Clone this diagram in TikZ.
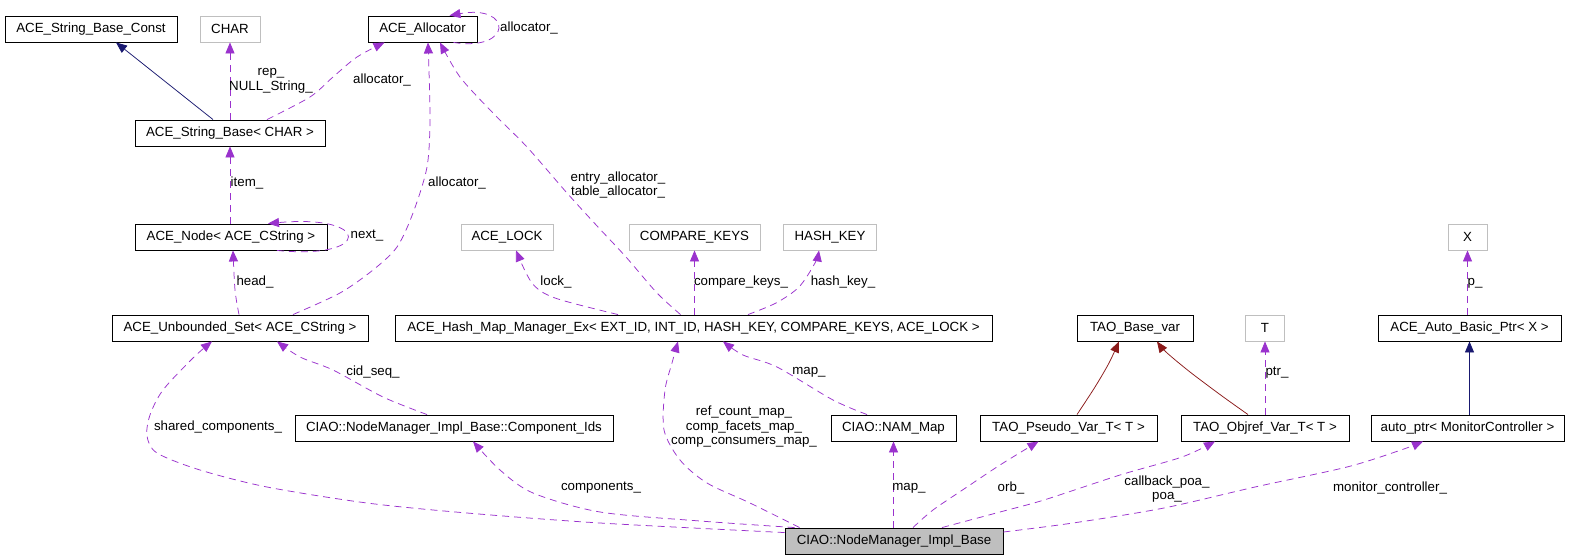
\documentclass[tikz,border=0pt]{standalone}
\usepackage{fontspec}
\setmainfont{Liberation Sans}
\usetikzlibrary{arrows.meta}
\definecolor{purp}{HTML}{9A32CD}
\definecolor{navyc}{HTML}{191970}
\definecolor{firec}{HTML}{8B1A1A}
\definecolor{graybd}{HTML}{BFBFBF}
\newcommand\lblfont{\fontsize{13.3}{14.5}\selectfont}
\tikzset{
  cls/.style={draw=black, line width=0.9pt, minimum height=26, inner sep=0pt, font=\lblfont, text=black},
  ext/.style={cls, draw=graybd},
  mainc/.style={cls, fill=graybd},
  use/.style={draw=purp, line width=0.75pt, dash pattern=on 7pt off 5pt, -{Triangle[length=11pt,width=9pt]}},
  inh/.style={draw=navyc, line width=0.75pt, -{Triangle[length=11pt,width=9pt]}},
  tmpl/.style={draw=firec, line width=0.75pt, -{Triangle[length=11pt,width=9pt]}},
  elab/.style={font=\lblfont, align=center, inner sep=0pt, text=black},
}
\begin{document}
\begin{tikzpicture}[x=1pt,y=-1pt]
\useasboundingbox[fill=white] (0,0) rectangle (1569,559);
% nodes
\node[cls, minimum width=172] (sbc) at (91,29) {ACE\_String\_Base\_Const};
\node[ext, minimum width=60] (chr) at (230,29) {CHAR};
\node[cls, minimum width=109] (alloc) at (422.5,29) {ACE\_Allocator};
\node[cls, minimum width=190] (sb) at (230,133) {ACE\_String\_Base< CHAR >};
\node[cls, minimum width=192] (nd) at (231,237) {ACE\_Node< ACE\_CString >};
\node[cls, minimum width=256] (us) at (240,328) {ACE\_Unbounded\_Set< ACE\_CString >};
\node[ext, minimum width=92] (lock) at (507,237) {ACE\_LOCK};
\node[ext, minimum width=131] (ck) at (694.5,237) {COMPARE\_KEYS};
\node[ext, minimum width=93] (hk) at (830,237) {HASH\_KEY};
\node[cls, minimum width=597] (hm) at (693.5,328) {ACE\_Hash\_Map\_Manager\_Ex< EXT\_ID, INT\_ID, HASH\_KEY, COMPARE\_KEYS, ACE\_LOCK >};
\node[cls, minimum width=116] (tbv) at (1135,328) {TAO\_Base\_var};
\node[ext, minimum width=39] (T) at (1265,328) {T};
\node[ext, minimum width=39] (X) at (1467.5,237) {X};
\node[cls, minimum width=183] (abp) at (1469.5,328) {ACE\_Auto\_Basic\_Ptr< X >};
\node[cls, minimum width=318] (cids) at (454,428) {CIAO::NodeManager\_Impl\_Base::Component\_Ids};
\node[cls, minimum width=125] (nam) at (893.5,428) {CIAO::NAM\_Map};
\node[cls, minimum width=177] (pseudo) at (1068.5,428) {TAO\_Pseudo\_Var\_T< T >};
\node[cls, minimum width=168] (objref) at (1265,428) {TAO\_Objref\_Var\_T< T >};
\node[cls, minimum width=193] (aptr) at (1467.5,428) {auto\_ptr< MonitorController >};
\node[mainc, minimum width=218] (main) at (894,541) {CIAO::NodeManager\_Impl\_Base};

% top part
\draw[inh] ([xshift=-17]sb.north) -- ([xshift=25]sbc.south);
\draw[use] (sb.north) -- (chr.south);
\node[elab] (l1) at (271,81) {rep\_\\NULL\_String\_};
\draw[use] plot[smooth] coordinates {([xshift=37]sb.north) (310,97) (333,77) (357,57) ([xshift=-38]alloc.south)};
\node[elab] (l2) at (382,80) {allocator\_};
\draw[use] ([xshift=-1]nd.north) -- (sb.south);
\node[elab] (l3) at (247,183) {item\_};
\draw[use] ([xshift=46]nd.south) .. controls (372,260) and (372,214) .. ([xshift=37]nd.north);
\node[elab] (l4) at (367,236) {next\_};
\draw[use] plot[smooth] coordinates {([xshift=-1]us.north) (235,290) ([xshift=2]nd.south)};
\node[elab] (l5) at (255,282) {head\_};
\draw[use] plot[smooth] coordinates {([xshift=53]us.north) (340,293) (373,270) (397,247) (413,213) (427,167) (430,117) ([xshift=5.5]alloc.south)};
\node[elab] (l6) at (457,183) {allocator\_};
\draw[use] ([xshift=31]alloc.south) .. controls (513,52) and (513,4) .. ([xshift=27]alloc.north);
\node[elab] (l7) at (529,28) {allocator\_};
\draw[use] plot[smooth] coordinates {([xshift=-13]hm.north) (657,293) (626,257) (598,227) (567,193) (527,147) (493,113) (460,77) ([xshift=17.5]alloc.south)};
\node[elab] (l8) at (618,185) {entry\_allocator\_\\table\_allocator\_};
\draw[use] plot[smooth] coordinates {([xshift=-75.5]hm.north) (555,298) (532,283) ([xshift=9]lock.south)};
\node[elab] (l9) at (556,282) {lock\_};
\draw[use] (hm.north -| ck.south) -- (ck.south);
\node[elab] (l10) at (741,282) {compare\_keys\_};
\draw[use] plot[smooth] coordinates {([xshift=54.5]hm.north) (776,303) (799,287) (815,263) ([xshift=-11]hk.south)};
\node[elab] (l11) at (843,282) {hash\_key\_};

% right part
\draw[tmpl] plot[smooth] coordinates {([xshift=8.5]pseudo.north) (1095,387) (1109,363) ([xshift=-16]tbv.south)};
\draw[tmpl] plot[smooth] coordinates {([xshift=-17]objref.north) (1222,396) (1190,372) (1166,352) ([xshift=22]tbv.south)};
\draw[use] (objref.north) -- (T.south);
\node[elab] (l12) at (1277,373) {ptr\_};
\draw[inh] (aptr.north -| abp.south) -- (abp.south);
\draw[use] (abp.north -| X.south) -- (X.south);
\node[elab] (l13) at (1475,283) {p\_};

% middle
\draw[use] plot[smooth] coordinates {([xshift=-27]cids.north) (383,397) (333,370) (300,357) ([xshift=37]us.south)};
\node[elab] (l14) at (373,372) {cid\_seq\_};
\draw[use] plot[smooth] coordinates {([xshift=-26.5]nam.north) (833,400) (777,367) (743,355) ([xshift=29.5]hm.south)};
\node[elab] (l15) at (809,372) {map\_};

% bottom
\draw[use] plot[smooth] coordinates {([yshift=-5]main.north west) (600,523) (467,513) (367,503) (267,487) (200,470) (157,453) (147,436) (150,415) (163,390) (193,358) ([xshift=-28]us.south)};
\node[elab] (l16) at (218,427) {shared\_components\_};
\draw[use] plot[smooth] coordinates {([xshift=10]main.north west) (700,521) (600,512) (533,493) (500,470) ([xshift=19]cids.south)};
\node[elab] (l17) at (601,488) {components\_};
\draw[use] plot[smooth] coordinates {([xshift=15]main.north west) (750,503) (707,483) (680,460) (664,430) (665,390) (672,363) ([xshift=-15.5]hm.south)};
\node[elab] (l18) at (744,427) {ref\_count\_map\_\\comp\_facets\_map\_\\comp\_consumers\_map\_};
\draw[use] (main.north -| nam.south) -- (nam.south);
\node[elab] (l19) at (909,488) {map\_};
\draw[use] plot[smooth] coordinates {([xshift=19]main.north) (933,510) (967,487) (1000,465) ([xshift=-30]pseudo.south)};
\node[elab] (l20) at (1011,488) {orb\_};
\draw[use] plot[smooth] coordinates {([xshift=48]main.north) (1000,512) (1044,500) (1120,475) (1182,457) ([xshift=-50]objref.south)};
\node[elab] (l21) at (1167,489) {callback\_poa\_\\poa\_};
\draw[use] plot[smooth] coordinates {([yshift=9]main.east) (1073,523) (1164,508) (1255,487) (1347,467) (1401,450) ([xshift=-44.5]aptr.south)};
\node[elab] (l22) at (1390,488) {monitor\_controller\_};
\end{tikzpicture}
\end{document}
